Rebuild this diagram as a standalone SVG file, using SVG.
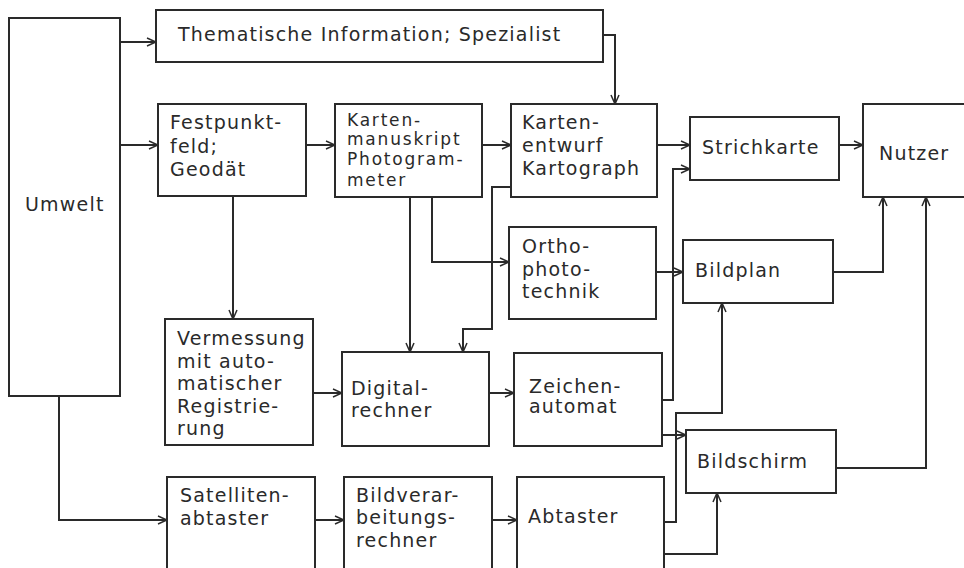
<svg xmlns="http://www.w3.org/2000/svg" width="964" height="568" viewBox="0 0 964 568">
<style>
rect.b{fill:none;stroke:#2a2a2a;stroke-width:2}
text{font-family:"DejaVu Sans","Liberation Sans",sans-serif;font-size:19px;fill:#2a2a2a;letter-spacing:1.2px}
text.t{font-size:17px;letter-spacing:1.8px}
#connectors path{fill:none;stroke:#2a2a2a;stroke-width:2;marker-end:url(#arr)}
</style>
<defs>
<marker id="arr" viewBox="0 0 10 10" refX="10" refY="5" markerWidth="10" markerHeight="10" markerUnits="userSpaceOnUse" orient="auto">
<path d="M1,1 L10,5 L1,9" fill="none" stroke="#2a2a2a" stroke-width="1.5"/>
</marker>
</defs>
<rect width="964" height="568" fill="#fff"/>
<g id="umwelt"><rect class="b" x="9" y="18" width="111" height="378"/><text x="25" y="211">Umwelt</text></g>
<g id="thematische"><rect class="b" x="156" y="10" width="447" height="52"/><text x="178" y="41">Thematische Information; Spezialist</text></g>
<g id="festpunkt"><rect class="b" x="158" y="104" width="148" height="92"/><text x="170" y="129">Festpunkt-</text><text x="170" y="153">feld;</text><text x="170" y="176">Geodät</text></g>
<g id="kartenmanuskript"><rect class="b" x="335" y="104" width="147" height="93"/><text class="t" x="347" y="126">Karten-</text><text class="t" x="347" y="145">manuskript</text><text class="t" x="347" y="165">Photogram-</text><text class="t" x="347" y="186">meter</text></g>
<g id="kartenentwurf"><rect class="b" x="511" y="104" width="146" height="93"/><text x="522" y="129">Karten-</text><text x="522" y="152">entwurf</text><text x="522" y="175">Kartograph</text></g>
<g id="strichkarte"><rect class="b" x="690" y="117" width="149" height="63"/><text x="702" y="154">Strichkarte</text></g>
<g id="nutzer"><rect class="b" x="863" y="104" width="110" height="93"/><text x="879" y="160">Nutzer</text></g>
<g id="ortho"><rect class="b" x="509" y="227" width="147" height="92"/><text x="522" y="253">Ortho-</text><text x="522" y="276">photo-</text><text x="522" y="298">technik</text></g>
<g id="bildplan"><rect class="b" x="683" y="240" width="150" height="63"/><text x="695" y="277">Bildplan</text></g>
<g id="vermessung"><rect class="b" x="165" y="319" width="148" height="126"/><text x="177" y="345">Vermessung</text><text x="177" y="368">mit auto-</text><text x="177" y="390">matischer</text><text x="177" y="413">Registrie-</text><text x="177" y="435">rung</text></g>
<g id="digitalrechner"><rect class="b" x="342" y="352" width="147" height="94"/><text x="351" y="395">Digital-</text><text x="351" y="417">rechner</text></g>
<g id="zeichenautomat"><rect class="b" x="514" y="353" width="148" height="93"/><text x="529" y="393">Zeichen-</text><text x="529" y="413">automat</text></g>
<g id="bildschirm"><rect class="b" x="686" y="430" width="150" height="63"/><text x="697" y="468">Bildschirm</text></g>
<g id="satelliten"><rect class="b" x="167" y="477" width="148" height="100"/><text x="180" y="502">Satelliten-</text><text x="180" y="525">abtaster</text></g>
<g id="bildverarbeitung"><rect class="b" x="344" y="477" width="148" height="100"/><text x="356" y="502">Bildverar-</text><text x="356" y="524">beitungs-</text><text x="356" y="547">rechner</text></g>
<g id="abtaster"><rect class="b" x="517" y="477" width="147" height="100"/><text x="528" y="523">Abtaster</text></g>
<g id="connectors">
<path d="M120,42 H156"/>
<path d="M120,145 H158"/>
<path d="M59,396 V520 H167"/>
<path d="M233,196 V319"/>
<path d="M306,145 H335"/>
<path d="M482,145 H511"/>
<path d="M603,35 H615 V104"/>
<path d="M410,197 V352"/>
<path d="M432,197 V262 H509"/>
<path d="M511,187 H492 V329 H463 V352"/>
<path d="M657,145 H690"/>
<path d="M839,145 H863"/>
<path d="M313,393 H342"/>
<path d="M489,393 H514"/>
<path d="M662,400 H673 V169 H690"/>
<path d="M656,272 H683"/>
<path d="M833,272 H883 V197"/>
<path d="M662,435 H686"/>
<path d="M664,522 H676 V413 H722 V303"/>
<path d="M664,554 H717 V493"/>
<path d="M836,468 H926 V197"/>
<path d="M315,520 H344"/>
<path d="M492,520 H517"/>
</g>
</svg>
